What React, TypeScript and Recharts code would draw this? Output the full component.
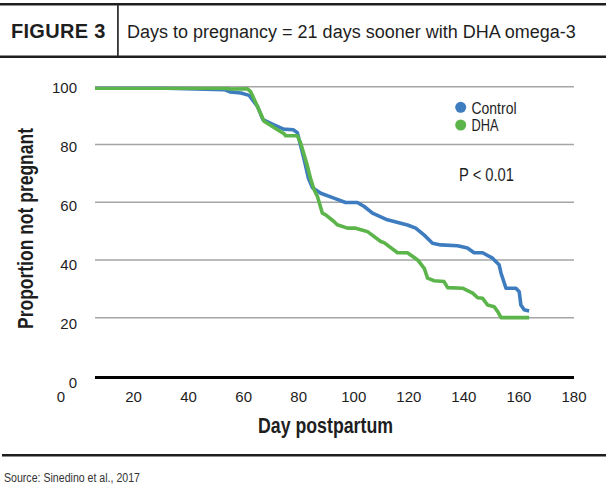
import { LineChart, Line, XAxis, YAxis, CartesianGrid } from 'recharts';

// Kaplan–Meier style curves: share of cows not yet pregnant by day postpartum
const controlDays = [6, 20, 32, 53, 55, 59, 62, 65, 67, 71, 74.5, 78, 79.5, 82, 83.5, 85, 88, 92.8, 97, 101.3, 103.8, 106.8, 112.2, 119.5, 122.5, 125.6, 128.6, 131.6, 137.7, 141.3, 143.7, 146.8, 150.4, 152.8, 153.5, 155.3, 158.9, 160.1, 160.7, 161.9, 163.7];
const controlPct = [100, 100, 99.5, 99, 98.2, 97.8, 97, 93.2, 88.6, 86.8, 85.3, 85.1, 84.1, 74.7, 68.4, 65, 63.1, 61.4, 59.9, 59.9, 58.5, 56.2, 53.9, 52.1, 51, 48.6, 45.8, 45.2, 44.9, 44.1, 42.5, 42.5, 40.6, 38.3, 35.4, 30.2, 30.2, 29, 24.4, 22.7, 22.3];

const dhaDays = [6, 52.7, 55.3, 61.3, 62.5, 65, 67.4, 72.3, 74.7, 75.3, 79.5, 80.7, 83.2, 84.4, 85.6, 86.8, 88.6, 89.8, 92.8, 94, 97.7, 100.7, 103.2, 105, 109.8, 111, 115.9, 119.5, 123.2, 125.6, 126.8, 129.2, 132.8, 134.1, 139.5, 143.2, 145, 146.8, 148.6, 151, 152.3, 153.5, 163.7];
const dhaPct = [99.5, 99.5, 99.2, 99.3, 98.3, 93.2, 88, 85.1, 83.7, 83, 83, 80.5, 72.4, 67.8, 64.3, 62, 56.2, 55.6, 53.3, 52.2, 51, 51, 50.3, 49.8, 46.4, 46, 42.5, 42.5, 40, 37.1, 33.7, 32.8, 32.5, 30.4, 30.2, 28.5, 26.9, 26.7, 24.4, 23.8, 22.1, 20, 20];

const xTicks = [20, 40, 60, 80, 100, 120, 140, 160, 180];
const yTicks = [0, 20, 40, 60, 80, 100];

const BLUE = '#3e7cc0';
const GREEN = '#5cb54b';
const INK = '#1e1e1e';
const SANS = "'Liberation Sans', Arial, sans-serif";

const controlData = controlDays.map((day, i) => ({ day, pct: controlPct[i] }));
const dhaData = dhaDays.map((day, i) => ({ day, pct: dhaPct[i] }));

function YTick({ y, payload }: any) {
  // labels drift slightly below their gridlines toward the bottom
  const shift = 1.5 + (100 - payload.value) * 0.055;
  return (
    <text x={77} y={y + shift} dy="0.35em" textAnchor="end" fontFamily={SANS} fontSize={15} fill={INK}>
      {payload.value}
    </text>
  );
}

function XTick({ x, y, payload }: any) {
  return (
    <text x={x} y={y + 26.5} textAnchor="middle" fontFamily={SANS} fontSize={15} fill={INK}>
      {payload.value}
    </text>
  );
}

// condensed text: squeeze the run to a set width
function Narrow({ width, children, ...rest }: any) {
  return (
    <text fontFamily={SANS} fill={INK} textLength={width} lengthAdjust="spacingAndGlyphs" {...rest}>
      {children}
    </text>
  );
}

export default function App() {
  return (
    <div style={{ position: 'absolute', left: 0, top: 0, width: 610, height: 491, background: '#fff' }}>
      <LineChart
        width={610}
        height={491}
        data={controlData}
        margin={{ top: 86.7, right: 36, bottom: 0, left: 0 }}
      >
        <CartesianGrid
          vertical={false}
          stroke="#a5a5a5"
          strokeWidth={1.5}
          horizontalValues={[20, 40, 60, 80, 100]}
        />
        <XAxis
          dataKey="day"
          type="number"
          domain={[6, 180]}
          ticks={xTicks}
          height={115.6}
          tickLine={false}
          tickSize={0}
          tickMargin={0}
          axisLine={{ stroke: '#000', strokeWidth: 3, transform: 'translate(0,2)' }}
          tick={<XTick />}
          allowDataOverflow
        />
        <YAxis
          type="number"
          domain={[0, 100]}
          ticks={yTicks}
          width={95}
          axisLine={false}
          tickLine={false}
          tickSize={0}
          tickMargin={0}
          tick={<YTick />}
          allowDataOverflow
        />
        <Line
          data={controlData}
          dataKey="pct"
          name="Control"
          type="linear"
          stroke={BLUE}
          strokeWidth={3.6}
          strokeLinejoin="round"
          dot={false}
          activeDot={false}
          isAnimationActive={false}
        />
        <Line
          data={dhaData}
          dataKey="pct"
          name="DHA"
          type="linear"
          stroke={GREEN}
          strokeWidth={3.6}
          strokeLinejoin="round"
          dot={false}
          activeDot={false}
          isAnimationActive={false}
        />
      </LineChart>

      <svg
        width={610}
        height={491}
        style={{ position: 'absolute', left: 0, top: 0, pointerEvents: 'none' }}
      >
        {/* header box */}
        <rect x={0} y={3} width={606} height={2.5} fill={INK} />
        <rect x={0} y={55.5} width={606} height={2.5} fill={INK} />
        <rect x={117} y={5} width={1.8} height={51} fill="#333" />
        <text x={11} y={38} fontFamily={SANS} fontWeight="bold" fontSize={20} letterSpacing={0.3} fill={INK}>
          FIGURE 3
        </text>
        <text x={127} y={38} fontFamily={SANS} fontSize={18} fill={INK}>
          Days to pregnancy = 21 days sooner with DHA omega-3
        </text>

        {/* axis titles */}
        <Narrow
          width={201}
          transform="translate(32.5,228.5) rotate(-90)"
          x={-100.5}
          y={0}
          fontWeight="bold"
          fontSize={22}
        >
          Proportion not pregnant
        </Narrow>
        <Narrow width={135} x={258} y={433} fontWeight="bold" fontSize={22}>
          Day postpartum
        </Narrow>
        <text x={61} y={402} textAnchor="middle" fontFamily={SANS} fontSize={15} fill={INK}>
          0
        </text>

        {/* legend */}
        <circle cx={460.7} cy={107.3} r={5.5} fill={BLUE} />
        <circle cx={460.7} cy={125} r={5.5} fill={GREEN} />
        <Narrow width={45} x={471.5} y={113.5} fontSize={16.5}>
          Control
        </Narrow>
        <Narrow width={27} x={471.5} y={131} fontSize={16.5}>
          DHA
        </Narrow>
        <Narrow width={55} x={459} y={181} fontSize={18}>
          P &lt; 0.01
        </Narrow>

        {/* footer */}
        <rect x={2} y={454} width={604} height={2.5} fill={INK} />
        <Narrow width={136} x={4} y={482} fontSize={12.5} fill="#333">
          Source: Sinedino et al., 2017
        </Narrow>
      </svg>
    </div>
  );
}
